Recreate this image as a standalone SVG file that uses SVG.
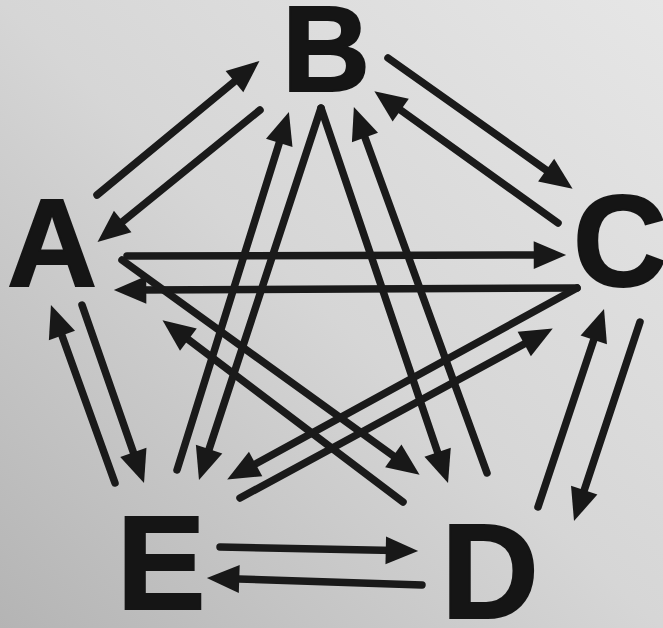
<svg xmlns="http://www.w3.org/2000/svg" width="663" height="628" viewBox="0 0 663 628">
  <defs>
    <linearGradient id="bg" x1="1" y1="0" x2="0" y2="1">
      <stop offset="0" stop-color="#e6e6e6"/>
      <stop offset="0.5" stop-color="#d6d6d6"/>
      <stop offset="1" stop-color="#b4b4b4"/>
    </linearGradient>
    <marker id="ah" markerUnits="userSpaceOnUse" markerWidth="44" markerHeight="44" refX="0" refY="0" viewBox="-12 -16 38 32" orient="auto" overflow="visible">
      <path d="M-8,-12 L20,0 L-8,12 z" fill="#181818"/>
    </marker>
    <style>
      .lbl { font-family: "Liberation Sans", Arial, sans-serif; font-weight: bold; fill: #151515; stroke: #151515; stroke-width: 2; text-anchor: middle; }
      .e { stroke: #1a1a1a; stroke-width: 7.5; fill: none; stroke-linecap: round; marker-end: url(#ah); }
    </style>
  </defs>
  <rect width="663" height="628" fill="url(#bg)"/>

  <g id="connectors">
    <line class="e" x1="97" y1="195" x2="241.6" y2="75.7"/>
    <line class="e" x1="260" y1="110" x2="115.5" y2="227.4"/>
    <line class="e" x1="388" y1="58" x2="553.7" y2="175.4"/>
    <line class="e" x1="558" y1="223" x2="393.2" y2="104.7"/>
    <line class="e" x1="127" y1="256" x2="543" y2="255"/>
    <line class="e" x1="577" y1="288" x2="137" y2="290"/>
    <line class="e" x1="82" y1="305" x2="136.4" y2="461.1"/>
    <line class="e" x1="115" y1="483" x2="58.8" y2="326.8"/>
    <line class="e" x1="122" y1="260" x2="400.8" y2="461.3"/>
    <line class="e" x1="403" y1="502" x2="181" y2="334.1"/>
    <line class="e" x1="321" y1="108" x2="206.2" y2="458"/>
    <line class="e" x1="177" y1="470" x2="282" y2="134.1"/>
    <line class="e" x1="321" y1="108" x2="440.6" y2="461.1"/>
    <line class="e" x1="487" y1="473" x2="361.8" y2="128.8"/>
    <line class="e" x1="577" y1="288" x2="247.5" y2="468.4"/>
    <line class="e" x1="240" y1="498" x2="532.4" y2="339.5"/>
    <line class="e" x1="640" y1="322" x2="581.3" y2="499"/>
    <line class="e" x1="538" y1="507" x2="596.7" y2="331"/>
    <line class="e" x1="220" y1="547" x2="395" y2="550.6"/>
    <line class="e" x1="422" y1="585" x2="230" y2="578.7"/>
  </g>

  <g id="node-A"><text class="lbl" x="52" y="286" font-size="124">A</text></g>
  <g id="node-B"><text class="lbl" x="326" y="91" font-size="122">B</text></g>
  <g id="node-C"><text class="lbl" x="620" y="286" font-size="130">C</text></g>
  <g id="node-E"><text class="lbl" x="161" y="609" font-size="133">E</text></g>
  <g id="node-D"><text class="lbl" x="490" y="618" font-size="135">D</text></g>
</svg>
